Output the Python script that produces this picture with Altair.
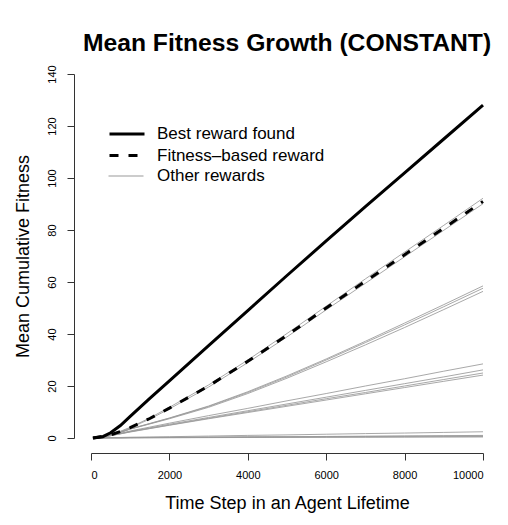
import altair as alt
import pandas as pd

# time steps (x)
t = [50, 300, 500, 750, 1000, 1500, 2000, 3000, 4000, 5000, 6000, 7000, 8000, 9000, 10000]

best = [0, 0.5, 2, 4.8, 8.3, 15.2, 22, 35.5, 49, 62.5, 75.8, 89, 102, 115, 128]
fitness_based = [0, 0.6, 1.2, 2.5, 4, 7.5, 11.5, 20, 29.5, 39.5, 50, 60.3, 70.5, 80.7, 91]

others = [
    [0, 0.6, 1.3, 2.6, 4.1, 7.7, 11.8, 20.4, 30, 40.2, 50.7, 61.2, 71.5, 81.8, 92.2],
    [0, 0.6, 1.2, 2.4, 3.9, 7.3, 11.2, 19.6, 29, 38.9, 49.3, 59.5, 69.7, 79.9, 90.1],
    [0, 0.5, 1.1, 2.2, 3.5, 5.6, 7.7, 12.3, 17.8, 23.9, 30.4, 37.2, 44.2, 51.3, 58.5],
    [0, 0.5, 1.1, 2.2, 3.5, 5.5, 7.6, 12.1, 17.5, 23.5, 30, 36.7, 43.5, 50.5, 57.6],
    [0, 0.5, 1.0, 2.1, 3.4, 5.4, 7.4, 11.8, 17.1, 23, 29.3, 35.8, 42.5, 49.4, 56.4],
    [0, 0.5, 1.0, 1.8, 2.7, 4.2, 5.7, 8.6, 11.4, 14.3, 17.1, 20, 22.8, 25.7, 28.5],
    [0, 0.5, 0.9, 1.7, 2.5, 3.9, 5.3, 7.9, 10.5, 13.1, 15.7, 18.3, 20.9, 23.5, 26.2],
    [0, 0.5, 0.9, 1.6, 2.4, 3.7, 5.0, 7.6, 10.1, 12.6, 15.1, 17.5, 20, 22.5, 25],
    [0, 0.4, 0.9, 1.6, 2.3, 3.6, 4.9, 7.4, 9.8, 12.2, 14.6, 17, 19.4, 21.8, 24.2],
    [0, 0.1, 0.15, 0.2, 0.3, 0.4, 0.5, 0.75, 1, 1.2, 1.45, 1.7, 1.9, 2.15, 2.4],
    [0, 0.05, 0.1, 0.1, 0.15, 0.2, 0.25, 0.35, 0.45, 0.5, 0.6, 0.7, 0.8, 0.9, 1.0],
    [0, 0.0, 0.05, 0.05, 0.1, 0.1, 0.15, 0.2, 0.25, 0.3, 0.35, 0.4, 0.45, 0.5, 0.55],
    [0, 0.0, 0.05, 0.05, 0.08, 0.1, 0.12, 0.15, 0.2, 0.25, 0.28, 0.3, 0.35, 0.38, 0.4],
    [0, 0.05, 0.1, 0.1, 0.15, 0.2, 0.22, 0.3, 0.4, 0.45, 0.52, 0.6, 0.68, 0.75, 0.8],
]

groups = ["Best reward found", "Fitness\u2013based reward", "Other rewards"]

rows = []
for i, ys in enumerate(others):
    for x, y in zip(t, ys):
        rows.append({"t": x, "v": y, "series": f"o{i}", "group": groups[2]})
for x, y in zip(t, fitness_based):
    rows.append({"t": x, "v": y, "series": "fb", "group": groups[1]})
for x, y in zip(t, best):
    rows.append({"t": x, "v": y, "series": "best", "group": groups[0]})
df = pd.DataFrame(rows)

FONT = "Liberation Sans"

x_enc = alt.X("t:Q", scale=alt.Scale(domain=[0, 10000], nice=False),
              axis=alt.Axis(values=[0, 2000, 4000, 6000, 8000, 10000], format="d",
                            title="Time Step in an Agent Lifetime", offset=15,
                            tickSize=7, labelPadding=9, titlePadding=14,
                            labelFontSize=11, titleFontSize=18))
y_enc = alt.Y("v:Q", scale=alt.Scale(domain=[0, 140], nice=False),
              axis=alt.Axis(values=[0, 20, 40, 60, 80, 100, 120, 140],
                            title="Mean Cumulative Fitness", offset=17,
                            tickSize=7, labelAngle=270, labelAlign="center",
                            labelBaseline="bottom", labelPadding=10, titlePadding=14,
                            labelFontSize=11, titleFontSize=18))

ROW0 = 41
ROWSTEP = 21.5


def legend_for(row, width, offset, dash=None):
    kw = dict(title=None, orient="none", legendX=17, legendY=ROW0 + row * ROWSTEP,
              symbolType="stroke", symbolSize=1225, symbolStrokeWidth=width,
              labelFontSize=17, labelOffset=offset, labelLimit=400, padding=0,
              labelFont=FONT, labelColor="black", symbolOpacity=1)
    if dash is not None:
        kw["symbolDash"] = dash
    return alt.Legend(**kw)


def layer_for(idx, colr, width, offset, dash=None, opacity=1.0):
    mark_kw = dict(strokeWidth=width, opacity=opacity)
    if dash is not None:
        mark_kw["strokeDash"] = dash
    return alt.Chart(df).transform_filter(alt.datum.group == groups[idx]).mark_line(**mark_kw).encode(
        x=x_enc, y=y_enc,
        color=alt.Color("group:N", scale=alt.Scale(domain=[groups[idx]], range=[colr]),
                        legend=legend_for(idx, width, offset, dash)),
        detail="series:N",
    )


gray = layer_for(2, "#999999", 1, 13, opacity=0.85)
fb = layer_for(1, "black", 3, 11, dash=[9, 10])
bst = layer_for(0, "black", 3, 11)

chart = alt.layer(gray, fb, bst).resolve_scale(color="independent").properties(
    width=392, height=364,
    autosize="none",
    padding={"left": 83, "top": 66, "right": 17, "bottom": 79},
    title=alt.TitleParams("Mean Fitness Growth (CONSTANT)", fontSize=24.7, font=FONT,
                          fontWeight="bold", anchor="middle", frame="group",
                          baseline="alphabetic", offset=-11, color="black"),
).configure_view(stroke=None).configure_axis(
    grid=False, domainColor="#333333", tickColor="#333333", labelFont=FONT, titleFont=FONT,
    labelColor="black", titleColor="black", titleFontWeight="normal"
)

chart.save("out.html", embed_options={"renderer": "svg", "actions": False})
